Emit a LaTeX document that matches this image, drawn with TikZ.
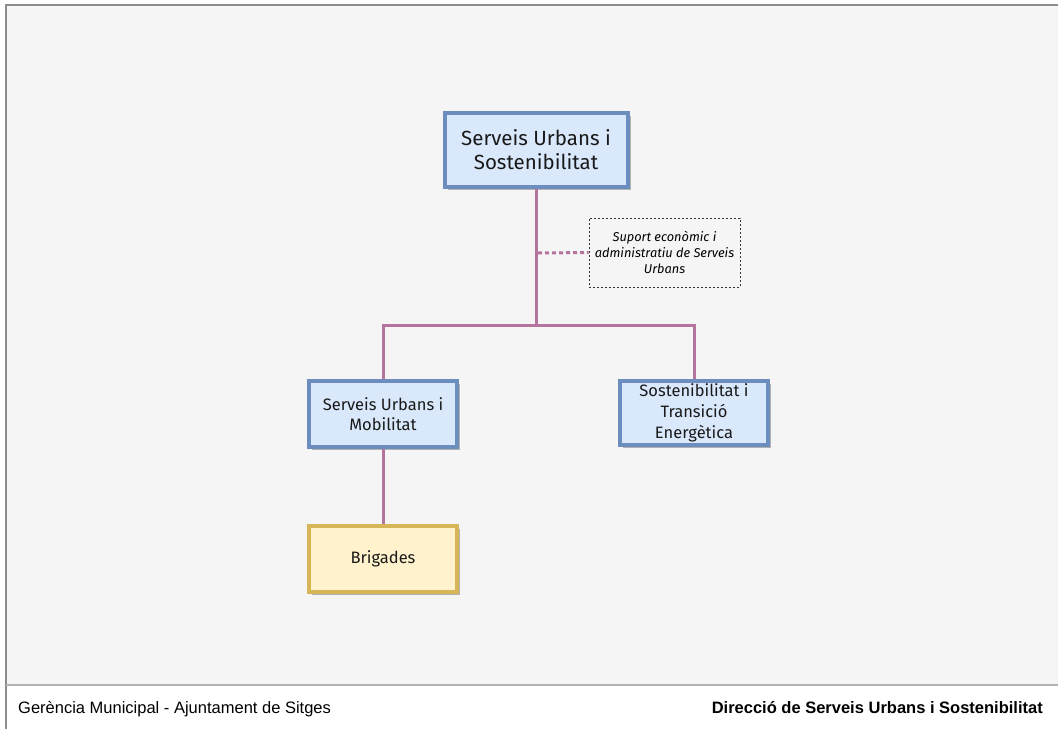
\documentclass[tikz,border=0pt]{standalone}
\usepackage{fontspec}
\usetikzlibrary{shadows}
\newfontfamily\boxfont{Fira Sans}
\newfontfamily\footfont{Liberation Sans}
\definecolor{bluefill}{HTML}{DAE8FC}
\definecolor{blueline}{HTML}{6C8EBF}
\definecolor{yellowfill}{HTML}{FFF2CC}
\definecolor{yellowline}{HTML}{D6B656}
\definecolor{linkcol}{HTML}{B5739D}
\definecolor{pagegray}{HTML}{F5F5F5}
\tikzset{
  unitbox/.style={draw, line width=4pt, align=center, inner sep=0pt,
    text=black!90, font=\boxfont,
    drop shadow={shadow xshift=3pt, shadow yshift=-3pt, fill=black!30, opacity=1}},
  bluebox/.style={unitbox, draw=blueline, fill=bluefill},
  yellowbox/.style={unitbox, draw=yellowline, fill=yellowfill},
  notebox/.style={draw=black!80, line width=0.8pt, dash pattern=on 2pt off 2pt,
    fill=pagegray, align=center, inner sep=0pt,
    font=\boxfont\itshape\fontsize{12.8}{16}\selectfont},
  link/.style={draw=linkcol, line width=3pt}
}
\begin{document}
\begin{tikzpicture}[x=1pt,y=-1pt]
  \useasboundingbox (0,0) rectangle (1058,729);
  \fill [white] (0,0) rectangle (1058,729);
  \fill [pagegray] (6,5) rectangle (1058,685);
  \draw [black!45] [line width=1.5pt] (6,729)--(6,5)--(1058,5);
  \draw [black!30] [line width=2pt] (6,685)--(1058,685);

  \node (sus) [bluebox, minimum width=183pt, minimum height=74pt,
    font=\boxfont\fontsize{20.5}{24}\selectfont] at (536,150)
    {Serveis Urbans i\\Sostenibilitat};
  \node (sum) [bluebox, minimum width=148pt, minimum height=66pt,
    font=\boxfont\fontsize{16.5}{20}\selectfont] at (383,414)
    {Serveis Urbans i\\Mobilitat};
  \node (ste) [bluebox, minimum width=148pt, minimum height=64pt,
    font=\boxfont\fontsize{16.5}{21}\selectfont] at (694,413)
    {Sostenibilitat i\\Transició\\Energètica};
  \node (brig) [yellowbox, minimum width=148pt, minimum height=66pt,
    font=\boxfont\fontsize{16.5}{20}\selectfont] at (383,559) {Brigades};
  \node (note) [notebox, minimum width=151pt, minimum height=69pt] at (664.5,252.5)
    {Suport econòmic i\\administratiu de Serveis\\Urbans};

  \coordinate (split) at (536,325);
  \coordinate (tap) at (538,253);
  \draw [link] [dash pattern=on 4pt off 3pt] (tap)--(note.west);
  \draw [link] (sus.south)--(split);
  \draw [link] (split)-|(sum.north);
  \draw [link] (split)-|(ste.north);
  \draw [link] (sum.south)--(brig.north);

  \draw node [anchor=base west, inner sep=0pt, font=\footfont\fontsize{16.5}{19}\selectfont] (foot1)
    at (18,713) {Gerència Municipal - Ajuntament de Sitges};
  \draw node [anchor=base east, inner sep=0pt, font=\footfont\bfseries\fontsize{16.5}{19}\selectfont] (foot2)
    at (1043,713) {Direcció de Serveis Urbans i Sostenibilitat};
\end{tikzpicture}
\end{document}
